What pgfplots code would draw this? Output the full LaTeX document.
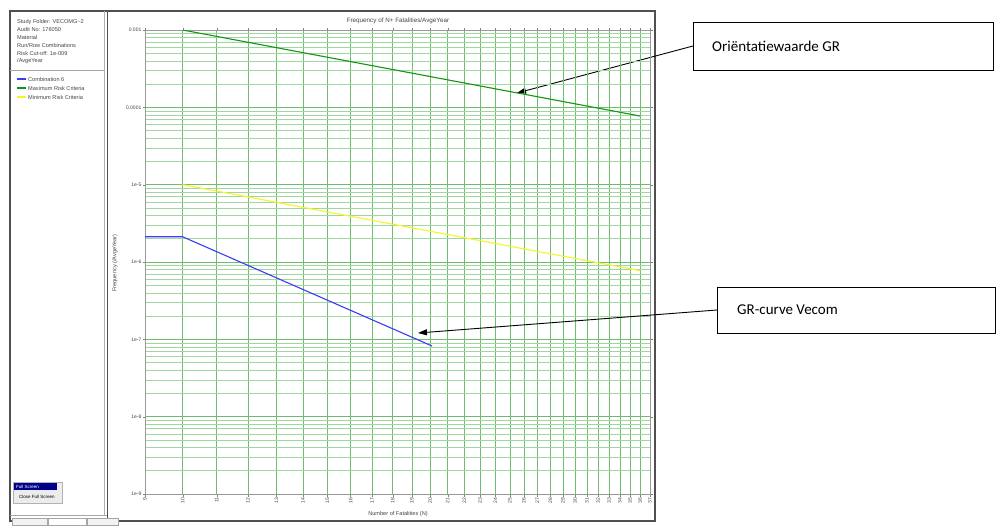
\documentclass[border=0pt]{standalone}
\usepackage{pgfplots}
\pgfplotsset{compat=1.18}
\usepackage{fontspec}
\setmainfont{Liberation Sans}
\newfontfamily\calib{Carlito}
\usetikzlibrary{arrows.meta}
\definecolor{gridmaj}{RGB}{110,190,110}
\definecolor{gridmin}{RGB}{160,215,160}
\definecolor{cgreen}{RGB}{20,150,20}
\definecolor{cyellow}{RGB}{245,245,40}
\definecolor{cblue}{RGB}{60,60,245}
\definecolor{frm}{RGB}{80,80,80}
\definecolor{txt}{RGB}{70,70,70}
\begin{document}
\begin{tikzpicture}
\begin{scope}[x=1pt,y=-1pt]
\useasboundingbox (0,0) rectangle (998,525);
\fill[white] (0,0) rectangle (998,525);
% window frame
\draw[frm, line width=1.6pt] (10,11) rectangle (655,521);
\draw[gray!60, line width=0.6pt] (104.5,11) -- (104.5,515);
\draw[frm, line width=0.8pt] (107,11) -- (107,521);
\draw[gray!70, line width=0.6pt] (10,70) -- (104.5,70);
\draw[gray!70, line width=0.6pt] (10,515) -- (107,515);
% left panel text
\begin{scope}[every node/.style={font=\fontsize{5.6}{6}\selectfont, text=txt, anchor=west, inner sep=0}]
\node at (17,21.7) {Study Folder: VECOMG\textasciitilde 2};
\node at (17,29.5) {Audit No: 176050};
\node at (17,37.5) {Material};
\node at (17,45.5) {Run/Row Combinations};
\node at (17,53.3) {Risk Cut-off: 1e-009};
\node at (17,61) {/AvgeYear};
\node at (28,79) {Combination 6};
\node at (28,88) {Maximum Risk Criteria};
\node at (28,97) {Minimum Risk Criteria};
\end{scope}
\draw[draw=cblue, line width=1.3pt] (17,79) -- (26,79);
\draw[draw=cgreen, line width=1.3pt] (17,88) -- (26,88);
\draw[draw=cyellow, line width=1.3pt] (17,97) -- (26,97);
% full screen button
\fill[gray!15] (13,482) rectangle (62,503);
\draw[gray!60] (13,482) rectangle (62,503);
\fill[blue!55!black] (14,483) rectangle (57,490);
\node[font=\fontsize{4.5}{5}\selectfont, text=white, anchor=west, inner sep=0] at (16,486.5) {Full Screen};
\node[font=\fontsize{4.5}{5}\selectfont, text=black, anchor=center, inner sep=0] at (37,496.5) {Close Full Screen};
% bottom tabs
\draw[gray!70, fill=gray!10] (12,518) rectangle (47,525);
\draw[gray!70, fill=white] (48,518) rectangle (86,525);
\draw[gray!70, fill=gray!10] (87,518) rectangle (118,525);
% axis title and labels
\node[font=\fontsize{6.3}{7}\selectfont, text=txt, inner sep=0] at (398,21) {Frequency of N+ Fatalities/AvgeYear};
\node[font=\fontsize{5.6}{6}\selectfont, text=txt, inner sep=0] at (398,514) {Number of Fatalities (N)};
\node[font=\fontsize{5.6}{6}\selectfont, text=txt, inner sep=0, rotate=90] at (115,263) {Frequency (/AvgeYear)};
% annotations
\draw[black, line width=0.9pt] (693,22) rectangle (993,70);
\node[font=\calib\fontsize{15}{18}\selectfont, anchor=west, inner sep=0] at (712,46) {Oriëntatiewaarde GR};
\draw[black, line width=0.9pt, -{Triangle[length=9pt,width=6pt]}] (693,46) -- (517,93);
\draw[black, line width=0.9pt] (717,287) rectangle (995,333);
\node[font=\calib\fontsize{15}{18}\selectfont, anchor=west, inner sep=0] at (737,310) {GR-curve Vecom};
\end{scope}
\begin{axis}[at={(145pt,-494pt)}, anchor=south west, scale only axis,
  width=505pt, height=464pt,
  xmode=log, ymode=log, xmin=9, xmax=37, ymin=1e-9, ymax=1e-3,
  xtick={9,10,11,12,13,14,15,16,17,18,19,20,21,22,23,24,25,26,27,28,29,30,31,32,33,34,35,36,37},
  xticklabels={9,10,11,12,13,14,15,16,17,18,19,20,21,22,23,24,25,26,27,28,29,30,31,32,33,34,35,36,37},
  minor xtick={},
  ytick={1e-9,1e-8,1e-7,1e-6,1e-5,1e-4,1e-3},
  yticklabels={1e-9,1e-8,1e-7,1e-6,1e-5,0.0001,0.001},
  xmajorgrids=true, ymajorgrids=true, yminorgrids=true,
  every axis grid/.style={draw=gridmin, line width=0.5pt},
  every major grid/.style={draw=gridmaj, line width=0.5pt},
  every minor grid/.style={draw=gridmin, line width=0.5pt},
  axis line style={gray!80, line width=0.6pt},
  tick align=outside, major tick length=2.5pt, minor tick length=0pt,
  xticklabel style={rotate=90, anchor=east, font=\fontsize{5}{5}\selectfont, text=txt, inner sep=1pt},
  yticklabel style={font=\fontsize{5}{5}\selectfont, text=txt, inner sep=1pt},
  /pgf/number format/assume math mode=true,
]
\addplot[cgreen, line width=1.1pt] coordinates {(10,1e-3) (36,7.716e-5)};
\addplot[cyellow, line width=1.1pt] coordinates {(10,1e-5) (36,7.716e-7)};
\addplot[cblue, line width=1.1pt] coordinates {(9,2.12e-6) (10,2.12e-6) (20.1,8.2e-8)};
\end{axis}
\begin{scope}[x=1pt,y=-1pt]
\draw[black, line width=0.9pt, -{Triangle[length=9pt,width=6pt]}] (717,310) -- (418,333);
\end{scope}
\end{tikzpicture}
\end{document}
